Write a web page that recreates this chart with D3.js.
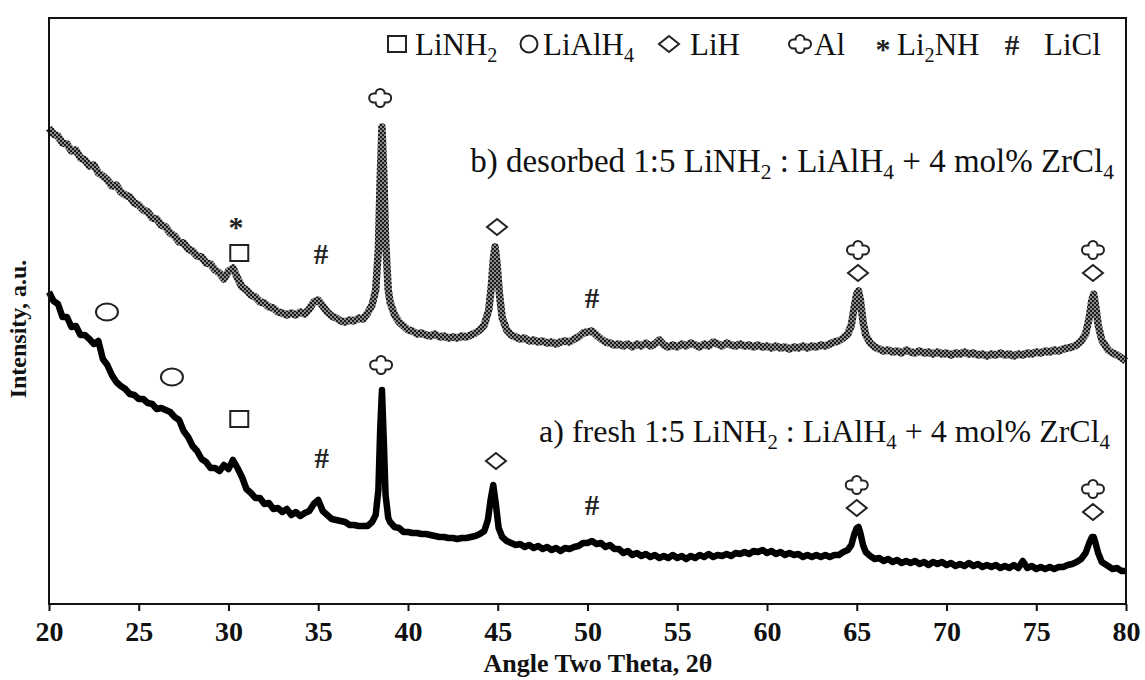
<!DOCTYPE html>
<html><head><meta charset="utf-8">
<script src="https://cdn.jsdelivr.net/npm/d3@7"></script>
<style>body{margin:0;background:#fff;} svg{display:block;}</style>
</head><body><svg id="c" width="1145" height="680"></svg>
<script>
// 2θ (deg), intensity (a.u.)
const desorbedB = [[20,476],[20.25,470],[20.5,468],[20.75,461],[21,460],[21.25,453],[21.5,454],[21.75,446],[22,444],[22.25,438],[22.5,439],[22.75,431],[23,428],[23.25,424],[23.5,418],[23.75,419],[24,412],[24.25,409],[24.5,407],[24.75,401],[25,399],[25.25,394],[25.5,392],[25.75,386],[26,385],[26.25,379],[26.5,377],[26.75,371],[27,368],[27.25,362],[27.5,361],[27.75,355],[28,353],[28.25,348],[28.5,347],[28.75,341],[29,340],[29.25,334],[29.5,331],[29.75,325],[30,333],[30.25,336],[30.5,326],[30.75,317],[31,314],[31.25,309],[31.5,307],[31.75,302],[32,301],[32.25,297],[32.5,296],[32.75,292],[33,291],[33.25,289],[33.5,291],[33.75,289],[34,292],[34.25,290],[34.5,295],[34.75,302],[35,304],[35.25,298],[35.5,292],[35.75,288],[36,286],[36.25,283],[36.5,282],[36.75,284],[37,283],[37.25,286],[37.5,285],[37.75,291],[38,299],[38.2,314],[38.35,354],[38.45,424],[38.55,477],[38.65,429],[38.75,364],[38.9,314],[39,302],[39.25,289],[39.5,282],[39.75,278],[40,274],[40.25,273],[40.5,270],[40.75,271],[41,269],[41.25,268],[41.5,270],[41.75,267],[42,268],[42.25,266],[42.5,267],[42.75,266],[43,268],[43.25,267],[43.5,269],[43.75,271],[44,274],[44.25,279],[44.5,294],[44.65,319],[44.75,344],[44.85,357],[44.95,342],[45.1,309],[45.25,286],[45.5,274],[45.75,269],[46,267],[46.25,265],[46.5,266],[46.75,263],[47,264],[47.25,262],[47.5,263],[47.75,261],[48,262],[48.25,260],[48.5,262],[48.75,263],[49,262],[49.25,265],[49.5,267],[49.75,271],[50,272],[50.25,273],[50.5,269],[50.75,265],[51,262],[51.25,261],[51.5,259],[51.75,260],[52,258],[52.25,260],[52.5,257],[52.75,260],[53,258],[53.25,261],[53.5,258],[53.75,260],[54,264],[54.25,259],[54.5,257],[54.75,259],[55,257],[55.25,260],[55.5,258],[55.75,261],[56,259],[56.25,257],[56.5,260],[56.75,258],[57,262],[57.25,260],[57.5,258],[57.75,261],[58,259],[58.25,258],[58.5,260],[58.75,258],[59,259],[59.25,257],[59.5,259],[59.75,257],[60,258],[60.25,256],[60.5,258],[60.75,256],[61,257],[61.25,255],[61.5,257],[61.75,256],[62,258],[62.25,256],[62.5,258],[62.75,257],[63,259],[63.25,258],[63.5,260],[63.75,262],[64,263],[64.25,266],[64.5,270],[64.7,279],[64.85,296],[65,310],[65.1,313],[65.2,304],[65.35,282],[65.5,269],[65.75,261],[66,257],[66.25,255],[66.5,253],[66.75,254],[67,252],[67.25,253],[67.5,251],[67.75,254],[68,252],[68.25,251],[68.5,253],[68.75,251],[69,252],[69.25,250],[69.5,252],[69.75,250],[70,251],[70.25,249],[70.5,251],[70.75,250],[71,252],[71.25,250],[71.5,251],[71.75,249],[72,250],[72.25,248],[72.5,250],[72.75,249],[73,251],[73.25,249],[73.5,250],[73.75,248],[74,250],[74.25,249],[74.5,251],[74.75,250],[75,252],[75.25,251],[75.5,253],[75.75,252],[76,254],[76.25,253],[76.5,255],[76.75,256],[77,257],[77.25,259],[77.5,263],[77.75,270],[77.95,286],[78.1,304],[78.2,310],[78.3,299],[78.45,279],[78.65,264],[79,254],[79.25,251],[79.5,249],[79.75,246],[80,243]];

const freshA = [[20,312],[20.25,303],[20.5,300],[20.75,287],[21,287],[21.25,277],[21.5,278],[21.75,269],[22,269],[22.25,265],[22.5,260],[22.75,263],[23,245],[23.25,239],[23.5,229],[23.75,222],[24,218],[24.25,215],[24.5,210],[24.75,209],[25,205],[25.25,205],[25.5,201],[25.75,200],[26,195],[26.25,196],[26.5,194],[26.75,192],[27,187],[27.25,184],[27.5,173],[27.75,167],[28,158],[28.25,153],[28.5,145],[28.75,142],[29,136],[29.25,136],[29.5,133],[29.75,139],[30,135],[30.25,144],[30.5,136],[30.75,127],[31,115],[31.25,111],[31.5,106],[31.75,106],[32,100],[32.25,101],[32.5,95],[32.75,96],[33,92],[33.25,95],[33.5,89],[33.75,92],[34,88],[34.25,91],[34.5,93],[34.75,100],[35,104],[35.25,93],[35.5,89],[35.75,85],[36,84],[36.25,83],[36.5,82],[36.75,79],[37,79],[37.25,78],[37.5,78],[37.75,78],[38,82],[38.2,89],[38.35,114],[38.45,174],[38.55,214],[38.65,164],[38.75,109],[38.9,86],[39,82],[39.25,77],[39.5,76],[39.75,72],[40,72],[40.25,71],[40.5,71],[40.75,70],[41,70],[41.25,69],[41.5,68],[41.75,67],[42,67],[42.25,66],[42.5,66],[42.75,65],[43,66],[43.25,66],[43.5,67],[43.75,68],[44,70],[44.25,73],[44.45,84],[44.6,104],[44.75,119],[44.9,99],[45.05,76],[45.25,67],[45.5,63],[45.75,61],[46,59],[46.25,60],[46.5,57],[46.75,59],[47,56],[47.25,58],[47.5,55],[47.75,57],[48,54],[48.25,56],[48.5,53],[48.75,56],[49,55],[49.25,57],[49.5,58],[49.75,61],[50,61],[50.25,63],[50.5,60],[50.75,61],[51,57],[51.25,59],[51.5,55],[51.75,55],[52,51],[52.25,53],[52.5,49],[52.75,51],[53,48],[53.25,50],[53.5,47],[53.75,49],[54,46],[54.25,48],[54.5,46],[54.75,49],[55,46],[55.25,48],[55.5,45],[55.75,48],[56,46],[56.25,49],[56.5,47],[56.75,50],[57,47],[57.25,49],[57.5,48],[57.75,50],[58,48],[58.25,51],[58.5,50],[58.75,52],[59,50],[59.25,53],[59.5,52],[59.75,54],[60,51],[60.25,53],[60.5,50],[60.75,52],[61,49],[61.25,51],[61.5,49],[61.75,50],[62,47],[62.25,49],[62.5,47],[62.75,49],[63,47],[63.25,49],[63.5,47],[63.75,49],[64,49],[64.25,52],[64.5,54],[64.7,59],[64.85,69],[65,76],[65.1,77],[65.2,71],[65.35,59],[65.5,52],[65.75,48],[66,45],[66.25,46],[66.5,43],[66.75,45],[67,42],[67.25,44],[67.5,41],[67.75,43],[68,41],[68.25,43],[68.5,40],[68.75,42],[69,39],[69.25,42],[69.5,40],[69.75,42],[70,39],[70.25,41],[70.5,38],[70.75,40],[71,38],[71.25,41],[71.5,38],[71.75,40],[72,37],[72.25,39],[72.5,37],[72.75,39],[73,36],[73.25,38],[73.5,36],[73.75,39],[74,36],[74.25,43],[74.5,36],[74.75,38],[75,35],[75.25,37],[75.5,35],[75.75,37],[76,35],[76.25,37],[76.5,37],[76.75,39],[77,40],[77.25,42],[77.5,45],[77.75,51],[77.95,61],[78.1,67],[78.2,67],[78.3,61],[78.45,51],[78.65,42],[79,38],[79.25,35],[79.5,36],[79.75,33],[80,33]];

const xTicks = [20,25,30,35,40,45,50,55,60,65,70,75,80];

// phase markers: symbol, 2θ, intensity position
const markersB = [["star",30.42,382],["square",30.6,351],["hash",35.15,351],["al",38.45,506],["diamond",44.96,377],["hash",50.25,307],["al",65.07,354],["diamond",65.07,331],["al",78.16,354],["diamond",78.16,331]];
const markersA = [["circle",23.23,292],["circle",26.85,227],["square",30.6,185],["hash",35.2,147],["al",38.5,239],["diamond",44.9,143],["hash",50.25,100],["al",65.0,119],["diamond",65.0,96],["al",78.16,115],["diamond",78.16,92]];

const legendItems = [["square",[["LiNH",0],["2",1]]],["ring",[["LiAlH",0],["4",1]]],["diamond",[["LiH",0]]],["al",[["Al",0]]],["star",[["Li",0],["2",1],["NH",0]]],["hash",[["LiCl",0]]]];
const labelB = [["b) desorbed 1:5 LiNH",0],["2",1],[" : LiAlH",0],["4",1],[" + 4 mol% ZrCl",0],["4",1]];
const labelA = [["a) fresh 1:5 LiNH",0],["2",1],[" : LiAlH",0],["4",1],[" + 4 mol% ZrCl",0],["4",1]];

const W=1145,H=680, L=49, R=1126, T=18, B=604;
const svg = d3.select("#c");
const FONT = "'Liberation Serif','Times New Roman',serif";
const x = d3.scaleLinear().domain([20,80]).range([L,R]);
const y = d3.scaleLinear().domain([0,586]).range([B,T]);

const defs = svg.append("defs");
const pat = defs.append("pattern").attr("id","chk").attr("width",4).attr("height",4).attr("patternUnits","userSpaceOnUse");
pat.append("rect").attr("width",4).attr("height",4).attr("fill","#8c8c8c");
pat.append("rect").attr("width",2).attr("height",2).attr("fill","#1c1c1c");
pat.append("rect").attr("x",2).attr("y",2).attr("width",2).attr("height",2).attr("fill","#1c1c1c");

const line = d3.line().x(d=>x(d[0])).y(d=>y(d[1]));

// curve b (halftone)
svg.append("path").datum(desorbedB).attr("d",line).attr("fill","none")
  .attr("stroke","url(#chk)").attr("stroke-width",7.5).attr("stroke-linejoin","round");
// curve a
svg.append("path").datum(freshA).attr("d",line).attr("fill","none")
  .attr("stroke","#000").attr("stroke-width",6.5).attr("stroke-linejoin","round");

// frame
svg.append("rect").attr("x",L).attr("y",T).attr("width",R-L).attr("height",B-T)
  .attr("fill","none").attr("stroke","#111").attr("stroke-width",2);

// x axis
const ax = svg.append("g").attr("transform",`translate(0,${B})`)
  .call(d3.axisBottom(x).tickValues(xTicks).tickSize(7).tickSizeOuter(0).tickPadding(10).tickFormat(d3.format("d")));
ax.select(".domain").remove();
ax.selectAll("line").attr("stroke","#111").attr("stroke-width",2);
ax.selectAll("text").attr("font-family",FONT).attr("font-weight","bold").attr("font-size",28).attr("fill","#111");

svg.append("text").attr("x",598).attr("y",672).attr("text-anchor","middle")
  .attr("font-family",FONT).attr("font-weight","bold").attr("font-size",26).attr("fill","#111")
  .text("Angle Two Theta, 2θ");
svg.append("text").attr("transform","translate(26,329) rotate(-90)").attr("text-anchor","middle")
  .attr("font-family",FONT).attr("font-weight","bold").attr("font-size",24).attr("fill","#111")
  .text("Intensity, a.u.");

// symbols
function alPath(a,bx,by){
  return `M${-a},${-by+a} A${a},${a} 0 0 1 ${a},${-by+a} L${a},${-a} L${bx-a},${-a} A${a},${a} 0 0 1 ${bx-a},${a} L${a},${a} L${a},${by-a} A${a},${a} 0 0 1 ${-a},${by-a} L${-a},${a} L${-bx+a},${a} A${a},${a} 0 0 1 ${-bx+a},${-a} L${-a},${-a} Z`;
}
function drawSym(g, s, cx, cy){
  let el;
  if(s==="square") el = g.append("rect").attr("x",cx-9).attr("y",cy-8).attr("width",18).attr("height",16);
  else if(s==="circle") el = g.append("ellipse").attr("cx",cx).attr("cy",cy).attr("rx",11).attr("ry",8.5);
  else if(s==="ring") el = g.append("circle").attr("cx",cx).attr("cy",cy).attr("r",8.5);
  else if(s==="diamond") el = g.append("path").attr("d",`M${cx},${cy-8} L${cx+10},${cy} L${cx},${cy+8} L${cx-10},${cy} Z`);
  else if(s==="al") el = g.append("path").attr("transform",`translate(${cx},${cy})`).attr("d",alPath(4.5,11,9));
  else if(s==="star"){ g.append("text").attr("x",cx).attr("y",cy+15).attr("text-anchor","middle").attr("font-family",FONT).attr("font-weight","bold").attr("font-size",30).attr("fill","#222").text("*"); return; }
  else if(s==="hash"){ g.append("text").attr("x",cx).attr("y",cy+10.5).attr("text-anchor","middle").attr("font-family",FONT).attr("font-weight","bold").attr("font-size",29).attr("fill","#222").text("#"); return; }
  el.attr("fill","none").attr("stroke","#222").attr("stroke-width",2);
}
const mg = svg.append("g");
markersB.forEach(m=>drawSym(mg,m[0],x(m[1]),y(m[2])));
markersA.forEach(m=>drawSym(mg,m[0],x(m[1]),y(m[2])));

function richText(g, parts, xx, yy, size, anchor){
  const t = g.append("text").attr("x",xx).attr("y",yy).attr("text-anchor",anchor)
    .attr("font-family",FONT).attr("font-size",size).attr("fill","#111");
  let sub=false;
  parts.forEach(p=>{
    const ts = t.append("tspan").text(p[0]);
    if(p[1] && !sub){ ts.attr("dy",size*0.22).attr("font-size",size*0.65); sub=true; }
    else if(p[1]) ts.attr("font-size",size*0.65);
    else if(!p[1] && sub){ ts.attr("dy",-size*0.22); sub=false; }
  });
  return t;
}
richText(svg, labelB, 1114, 172, 33, "end");
richText(svg, labelA, 1110, 442, 32, "end");

// legend
const legX = [[397,415],[529,543],[669,690],[800,814],[883,897],[1012,1044]];
const lg = svg.append("g");
legendItems.forEach((it,i)=>{
  drawSym(lg, it[0], legX[i][0], 44);
  richText(lg, it[1], legX[i][1], 55, 31, "start");
});
</script></body></html>
